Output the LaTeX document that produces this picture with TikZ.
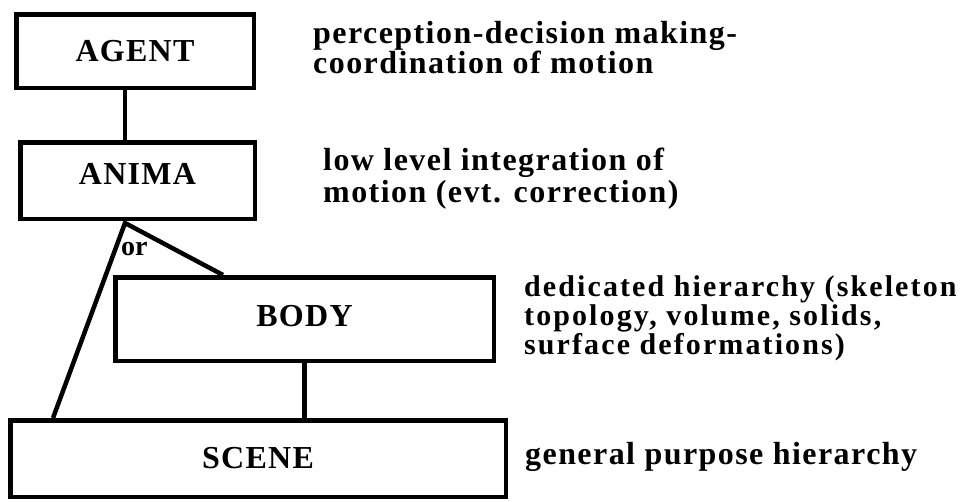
\documentclass[tikz,border=0pt]{standalone}
\usepackage{fontspec}
\setmainfont{Liberation Serif}
\usetikzlibrary{positioning}

\tikzset{
  level/.style={draw, line width=4.5pt, inner sep=0pt,
    font=\fontsize{32}{36}\selectfont\bfseries\addfontfeatures{LetterSpace=4}},
  note/.style={anchor=base west, inner sep=0pt, text height=21pt, text depth=6pt,
    font=\fontsize{32}{30}\selectfont\bfseries\addfontfeatures{LetterSpace=4.5}},
  tightnote/.style={note, text height=20pt, text depth=5pt,
    font=\fontsize{30}{29}\selectfont\bfseries\addfontfeatures{LetterSpace=7}},
  link/.style={line width=4.5pt}
}

\begin{document}
\begin{tikzpicture}[x=1pt, y=-1pt]

\useasboundingbox (0,0) rectangle (975,501);

% Levels
\node[level, minimum width=237.5pt, minimum height=73.5pt] (agent) at (135,51) {AGENT};
\node[level, minimum width=234.5pt, minimum height=76.5pt, text depth=14pt] (anima) at (137.5,180.5) {ANIMA};
\node[level, minimum width=378.5pt, minimum height=83.5pt, text depth=7pt] (body) at (304.5,319) {BODY};
\node[level, minimum width=495.5pt, minimum height=76.5pt] (scene) at (258,458.5) {SCENE};

% Links between levels
\coordinate (fork) at (125,223);
\draw[link] (agent.south -| fork) -- (anima.north -| fork);
\draw[link, line join=miter] (scene.north -| 53,0) -- (fork) -- (body.north -| 223,0);
\draw[link] (body.south) -- (scene.north -| body.south);
\node[anchor=base west, inner sep=0pt, font=\fontsize{28}{32}\selectfont\bfseries] (or) at (121,255) {or};

% Descriptions
\node[note] (agent1) at (313,43) {perception-decision making-};
\node[note] (agent2) at (313,73) {coordination of motion};
\node[note] (anima1) at (323,170) {low level integration of};
\node[note] (anima2) at (323,202) {motion (evt. correction)};
\node[tightnote] (body1) at (524,296) {dedicated hierarchy (skeleton};
\node[tightnote] (body2) at (524,325) {topology, volume, solids,};
\node[tightnote] (body3) at (524,354) {surface deformations)};
\node[note] (scene1) at (525,464) {general purpose hierarchy};

\end{tikzpicture}
\end{document}
